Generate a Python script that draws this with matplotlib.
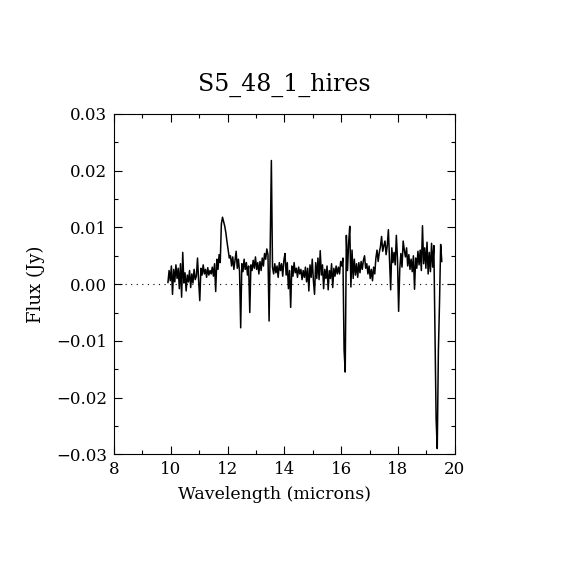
import numpy as np
import matplotlib
matplotlib.use("Agg")
import matplotlib.pyplot as plt
from matplotlib.ticker import MultipleLocator

# --- spectrum, flux in mJy, 0.04 micron steps from 9.90 ---
wave_start = 9.90
wave_step = 0.04

flux_a = [0.3, 2.4, 0.6, 3.2, -1.8, 2.6, 0.4, 3.4, 1.0, 2.8, -0.8, 3.6, -2.3,
          5.6, 0.2, 2.0, -1.2, 1.6, 0.4, 2.4, -0.6, 1.8, 0.2, 2.6, 0.8]
flux_b = [1.4, 4.6, 0.6, -2.9, 2.8, 1.6, 3.4, 1.8, 2.6, 1.2, 2.9, 1.6, 2.4,
          1.8, 3.0, 1.4, 3.6, -1.3, 4.4, 2.6, 5.2, 3.8, 10.6, 11.8, 11.0]
flux_c = [10.2, 9.0, 7.4, 6.0, 4.6, 5.0, 3.2, 4.8, 2.6, 4.2, 5.8, 2.8, 4.4,
          2.2, -7.7, 3.6, 2.2, 4.4, 2.6, 3.8, 1.6, 3.2, -5.0, 3.4, 2.4]
flux_d = [4.2, 2.8, 4.8, 2.6, 3.8, 1.8, 4.0, 2.4, 4.6, 3.2, 5.4, 4.4, 6.2,
          5.2, -6.5, 6.8, 21.8, 3.0, 1.8, 3.6, 2.0, 3.2, 1.2, 3.8, 2.4]
flux_e = [3.6, 1.4, 4.2, 5.4, 1.6, 3.8, -0.8, 2.4, -4.1, 3.2, 1.4, 3.8, 2.0,
          2.8, 1.2, 3.0, 1.8, 2.6, 0.8, 2.4, 1.2, 3.0, 0.4, 2.8, -1.2]
flux_f = [3.4, 1.2, 4.4, 0.6, -1.8, 3.8, 1.0, 4.6, 0.8, 5.9, 1.6, 3.4, -0.8,
          2.6, 1.0, 3.2, -1.0, 2.4, 1.0, 3.6, -0.6, 2.8, 1.4, 3.2, 1.8]
flux_g = [3.0, 1.8, 4.0, 3.2, 4.6, -11.6, -15.5, 8.6, 2.4, 7.2, 10.2, -0.5,
          6.0, 1.0, 4.4, 1.6, 3.6, 1.2, 3.8, 2.0, 4.0, 2.6, 4.2, 5.0, 2.8]
flux_h = [3.6, 1.8, 3.2, 1.0, 2.6, 0.6, 3.0, 1.8, 4.6, 6.0, 4.0, 5.6, 6.6,
          8.4, 5.8, 6.8, 7.6, 5.2, 6.8, 9.6, 4.2, -1.0, 6.4, 3.8, 5.6]
flux_i = [3.4, 8.6, 4.4, -4.8, 2.6, 5.4, 3.0, 7.6, 6.0, 4.8, 6.4, 3.2, 5.2,
          2.6, 4.4, 2.2, 5.0, -0.9, 4.6, 2.8, 5.8, 3.4, 6.0, 2.4, 10.3]
flux_j = [3.6, 6.4, 2.8, 7.4, 1.8, 5.6, 2.2, 7.2, 3.0, 6.8, -9.0, -23.8,
          -29.0, -11.8, -3.2, 7.0, 4.0]

title = "S5_48_1_hires"
xlabel = "Wavelength (microns)"
ylabel = "Flux (Jy)"

flux = np.concatenate([flux_a, flux_b, flux_c, flux_d, flux_e,
                       flux_f, flux_g, flux_h, flux_i, flux_j]) * 1e-3
wave = wave_start + wave_step * np.arange(len(flux))

plt.rcParams['font.family'] = ['DejaVu Serif']
plt.rcParams['font.size'] = 12

fig = plt.figure(figsize=(5.7, 5.7), dpi=100)
ax = fig.add_axes([0.2, 0.203, 0.598, 0.597])

ax.plot(wave, flux, color='black', lw=1.1)
ax.axhline(0.0, color='black', lw=0.8, ls=(0, (1, 4)))

ax.set_xlim(8, 20)
ax.set_ylim(-0.03, 0.03)
ax.xaxis.set_major_locator(MultipleLocator(2))
ax.xaxis.set_minor_locator(MultipleLocator(1))
ax.yaxis.set_major_locator(MultipleLocator(0.01))
ax.yaxis.set_minor_locator(MultipleLocator(0.005))
ax.yaxis.set_major_formatter(plt.FuncFormatter(
    lambda v, p: ("\u2212" if v < -1e-9 else "") + "%.2f" % abs(v)))

ax.tick_params(which='both', direction='in', top=True, right=True,
               width=0.8, labelsize=12)
ax.tick_params(which='major', length=6, pad=5)
ax.tick_params(which='minor', length=3)
for s in ax.spines.values():
    s.set_linewidth(0.8)

ax.set_title(title, fontsize=17, pad=17)
ax.set_xlabel(xlabel, fontsize=12.5)
ax.xaxis.set_label_coords(0.47, -0.093)
ax.set_ylabel(ylabel, fontsize=13, labelpad=8)

fig.savefig("out.png", dpi=100)
